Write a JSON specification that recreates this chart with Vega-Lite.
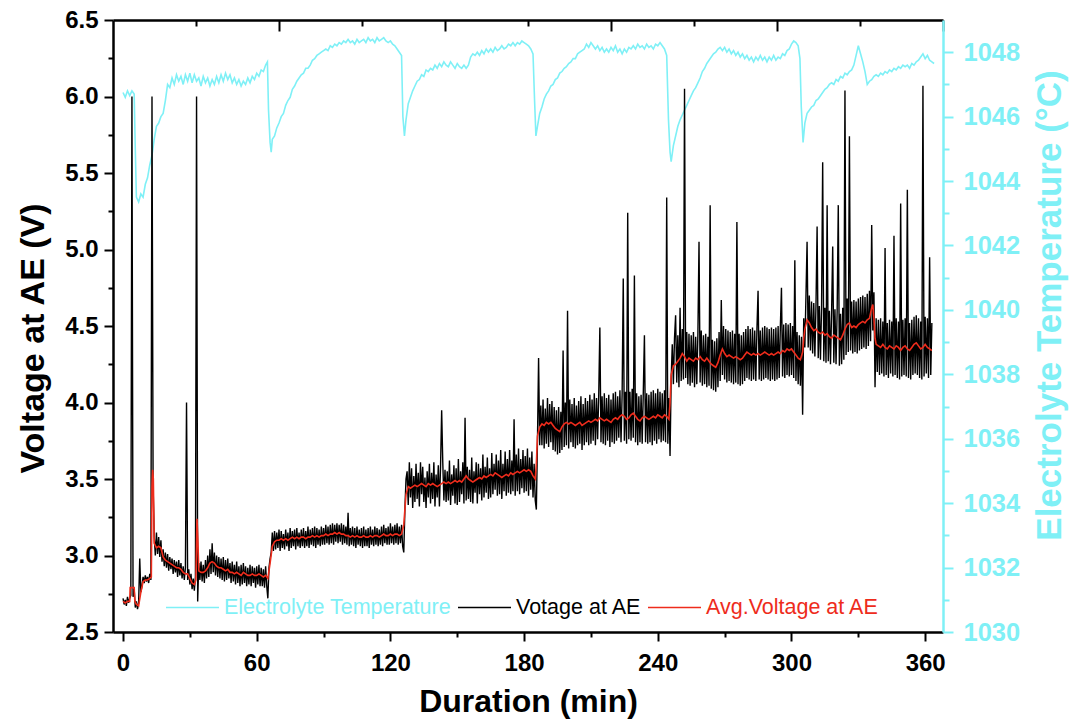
{
"$schema": "https://vega.github.io/schema/vega-lite/v6.json",
"width": 830, "height": 612,
"autosize": {"type": "none"},
"padding": {"left": 113, "top": 20, "right": 131, "bottom": 90},
"background": "white",
"config": {"view": {"stroke": null}, "font": "Liberation Sans", "axis": {"grid": false}},
"datasets": {
"temp": [
{"t":0,"T":1046.75},{"t":1,"T":1046.6},{"t":2,"T":1046.8},{"t":3,"T":1046.65},{"t":4,"T":1046.8},{"t":5,"T":1046.7},{"t":5.5,"T":1045.0},{"t":6,"T":1043.5},{"t":7,"T":1043.35},{"t":8,"T":1043.6},{"t":9,"T":1043.5},{"t":10,"T":1043.9},{"t":11,"T":1044.1},{"t":12,"T":1044.5},{"t":13,"T":1044.8},{"t":14,"T":1045.3},{"t":15,"T":1045.7},{"t":16,"T":1045.8},{"t":17,"T":1046.0},{"t":18,"T":1046.1},{"t":19,"T":1046.5},{"t":20,"T":1047.0},{"t":21,"T":1046.9},{"t":22,"T":1047.2},{"t":23,"T":1047.0},{"t":24,"T":1047.3},{"t":25,"T":1047.1},{"t":26,"T":1047.25},{"t":27,"T":1047.0},{"t":28,"T":1047.3},{"t":29,"T":1047.1},{"t":30,"T":1047.35},{"t":31,"T":1047.05},{"t":32,"T":1047.3},{"t":33,"T":1047.1},{"t":34,"T":1047.2},{"t":35,"T":1046.95},{"t":36,"T":1047.25},{"t":37,"T":1047.05},{"t":38,"T":1047.2},{"t":39,"T":1046.95},{"t":40,"T":1047.15},{"t":41,"T":1047.0},{"t":42,"T":1047.25},{"t":43,"T":1047.05},{"t":44,"T":1047.3},{"t":45,"T":1047.1},{"t":46,"T":1047.35},{"t":47,"T":1047.15},{"t":48,"T":1047.3},{"t":49,"T":1047.05},{"t":50,"T":1047.2},{"t":51,"T":1047.0},{"t":52,"T":1047.15},{"t":53,"T":1046.95},{"t":54,"T":1047.1},{"t":55,"T":1047.0},{"t":56,"T":1047.2},{"t":57,"T":1047.05},{"t":58,"T":1047.25},{"t":59,"T":1047.15},{"t":60,"T":1047.35},{"t":61,"T":1047.25},{"t":62,"T":1047.45},{"t":63,"T":1047.4},{"t":64,"T":1047.6},{"t":64.8,"T":1047.7},{"t":65.3,"T":1046.2},{"t":66,"T":1045.2},{"t":66.5,"T":1044.9},{"t":67,"T":1045.3},{"t":68,"T":1045.4},{"t":69,"T":1045.65},{"t":70,"T":1045.8},{"t":71,"T":1046.0},{"t":72,"T":1046.1},{"t":73,"T":1046.35},{"t":74,"T":1046.5},{"t":75,"T":1046.6},{"t":76,"T":1046.85},{"t":77,"T":1046.95},{"t":78,"T":1047.1},{"t":79,"T":1047.2},{"t":80,"T":1047.3},{"t":81,"T":1047.35},{"t":82,"T":1047.5},{"t":83,"T":1047.5},{"t":84,"T":1047.6},{"t":85,"T":1047.75},{"t":86,"T":1047.8},{"t":87,"T":1047.9},{"t":88,"T":1047.95},{"t":89,"T":1048.0},{"t":90,"T":1048.05},{"t":91,"T":1048.1},{"t":92,"T":1048.05},{"t":93,"T":1048.2},{"t":94,"T":1048.15},{"t":95,"T":1048.25},{"t":96,"T":1048.2},{"t":97,"T":1048.3},{"t":98,"T":1048.25},{"t":99,"T":1048.35},{"t":100,"T":1048.3},{"t":101,"T":1048.4},{"t":102,"T":1048.3},{"t":103,"T":1048.35},{"t":104,"T":1048.25},{"t":105,"T":1048.4},{"t":106,"T":1048.3},{"t":107,"T":1048.35},{"t":108,"T":1048.4},{"t":109,"T":1048.3},{"t":110,"T":1048.45},{"t":111,"T":1048.35},{"t":112,"T":1048.4},{"t":113,"T":1048.3},{"t":114,"T":1048.45},{"t":115,"T":1048.35},{"t":116,"T":1048.4},{"t":117,"T":1048.45},{"t":118,"T":1048.35},{"t":119,"T":1048.3},{"t":120,"T":1048.35},{"t":121,"T":1048.25},{"t":122,"T":1048.2},{"t":123,"T":1048.1},{"t":124,"T":1048.0},{"t":125,"T":1047.9},{"t":125.6,"T":1046.0},{"t":126.3,"T":1045.4},{"t":127,"T":1045.9},{"t":128,"T":1046.4},{"t":129,"T":1046.6},{"t":130,"T":1046.8},{"t":131,"T":1046.95},{"t":132,"T":1047.1},{"t":133,"T":1047.15},{"t":134,"T":1047.3},{"t":135,"T":1047.25},{"t":136,"T":1047.45},{"t":137,"T":1047.4},{"t":138,"T":1047.5},{"t":139,"T":1047.45},{"t":140,"T":1047.6},{"t":141,"T":1047.5},{"t":142,"T":1047.65},{"t":143,"T":1047.55},{"t":144,"T":1047.7},{"t":145,"T":1047.6},{"t":146,"T":1047.55},{"t":147,"T":1047.7},{"t":148,"T":1047.6},{"t":149,"T":1047.5},{"t":150,"T":1047.65},{"t":151,"T":1047.55},{"t":152,"T":1047.5},{"t":153,"T":1047.6},{"t":154,"T":1047.5},{"t":155,"T":1047.6},{"t":156,"T":1047.85},{"t":157,"T":1047.95},{"t":158,"T":1047.9},{"t":159,"T":1048.0},{"t":160,"T":1047.9},{"t":161,"T":1048.05},{"t":162,"T":1047.95},{"t":163,"T":1048.1},{"t":164,"T":1048.0},{"t":165,"T":1048.1},{"t":166,"T":1048.0},{"t":167,"T":1048.15},{"t":168,"T":1048.05},{"t":169,"T":1048.1},{"t":170,"T":1048.2},{"t":171,"T":1048.1},{"t":172,"T":1048.15},{"t":173,"T":1048.25},{"t":174,"T":1048.2},{"t":175,"T":1048.3},{"t":176,"T":1048.2},{"t":177,"T":1048.3},{"t":178,"T":1048.25},{"t":179,"T":1048.35},{"t":180,"T":1048.3},{"t":181,"T":1048.25},{"t":182,"T":1048.2},{"t":183,"T":1048.1},{"t":184,"T":1047.95},{"t":184.7,"T":1046.5},{"t":185.3,"T":1045.4},{"t":186,"T":1045.7},{"t":187,"T":1046.1},{"t":188,"T":1046.3},{"t":189,"T":1046.55},{"t":190,"T":1046.7},{"t":191,"T":1046.8},{"t":192,"T":1046.95},{"t":193,"T":1047.0},{"t":194,"T":1047.15},{"t":195,"T":1047.2},{"t":196,"T":1047.35},{"t":197,"T":1047.4},{"t":198,"T":1047.5},{"t":199,"T":1047.55},{"t":200,"T":1047.65},{"t":201,"T":1047.7},{"t":202,"T":1047.8},{"t":203,"T":1047.8},{"t":204,"T":1047.95},{"t":205,"T":1048.0},{"t":206,"T":1048.05},{"t":207,"T":1048.1},{"t":208,"T":1048.25},{"t":209,"T":1048.15},{"t":210,"T":1048.3},{"t":211,"T":1048.2},{"t":212,"T":1048.1},{"t":213,"T":1048.2},{"t":214,"T":1048.05},{"t":215,"T":1048.15},{"t":216,"T":1048.0},{"t":217,"T":1048.1},{"t":218,"T":1048.0},{"t":219,"T":1048.15},{"t":220,"T":1048.05},{"t":221,"T":1048.2},{"t":222,"T":1048.0},{"t":223,"T":1048.1},{"t":224,"T":1047.95},{"t":225,"T":1048.1},{"t":226,"T":1048.0},{"t":227,"T":1048.15},{"t":228,"T":1048.1},{"t":229,"T":1048.2},{"t":230,"T":1048.1},{"t":231,"T":1048.25},{"t":232,"T":1048.15},{"t":233,"T":1048.2},{"t":234,"T":1048.1},{"t":235,"T":1048.25},{"t":236,"T":1048.15},{"t":237,"T":1048.2},{"t":238,"T":1048.1},{"t":239,"T":1048.25},{"t":240,"T":1048.2},{"t":241,"T":1048.3},{"t":242,"T":1048.2},{"t":243,"T":1048.1},{"t":244,"T":1047.9},{"t":244.8,"T":1045.9},{"t":245.5,"T":1044.9},{"t":246,"T":1044.6},{"t":247,"T":1045.1},{"t":248,"T":1045.4},{"t":249,"T":1045.7},{"t":250,"T":1045.9},{"t":251,"T":1046.05},{"t":252,"T":1046.2},{"t":253,"T":1046.35},{"t":254,"T":1046.5},{"t":255,"T":1046.65},{"t":256,"T":1046.8},{"t":257,"T":1046.9},{"t":258,"T":1047.05},{"t":259,"T":1047.2},{"t":260,"T":1047.4},{"t":261,"T":1047.5},{"t":262,"T":1047.65},{"t":263,"T":1047.75},{"t":264,"T":1047.85},{"t":265,"T":1047.95},{"t":266,"T":1048.0},{"t":267,"T":1048.1},{"t":268,"T":1048.15},{"t":269,"T":1048.05},{"t":270,"T":1048.15},{"t":271,"T":1048.0},{"t":272,"T":1048.1},{"t":273,"T":1047.95},{"t":274,"T":1048.05},{"t":275,"T":1047.9},{"t":276,"T":1048.0},{"t":277,"T":1047.85},{"t":278,"T":1047.95},{"t":279,"T":1047.8},{"t":280,"T":1047.9},{"t":281,"T":1047.75},{"t":282,"T":1047.85},{"t":283,"T":1047.7},{"t":284,"T":1047.85},{"t":285,"T":1047.75},{"t":286,"T":1047.9},{"t":287,"T":1047.75},{"t":288,"T":1047.85},{"t":289,"T":1047.7},{"t":290,"T":1047.85},{"t":291,"T":1047.75},{"t":292,"T":1047.9},{"t":293,"T":1047.75},{"t":294,"T":1047.85},{"t":295,"T":1047.8},{"t":296,"T":1047.95},{"t":297,"T":1047.9},{"t":298,"T":1048.05},{"t":299,"T":1048.1},{"t":300,"T":1048.25},{"t":301,"T":1048.35},{"t":302,"T":1048.3},{"t":303,"T":1048.2},{"t":303.8,"T":1047.8},{"t":304.4,"T":1046.3},{"t":305.2,"T":1045.2},{"t":306,"T":1045.8},{"t":307,"T":1046.1},{"t":308,"T":1046.2},{"t":309,"T":1046.3},{"t":310,"T":1046.35},{"t":311,"T":1046.5},{"t":312,"T":1046.55},{"t":313,"T":1046.65},{"t":314,"T":1046.75},{"t":315,"T":1046.85},{"t":316,"T":1046.9},{"t":317,"T":1047.0},{"t":318,"T":1047.05},{"t":319,"T":1047.0},{"t":320,"T":1047.15},{"t":321,"T":1047.1},{"t":322,"T":1047.25},{"t":323,"T":1047.2},{"t":324,"T":1047.35},{"t":325,"T":1047.3},{"t":326,"T":1047.4},{"t":327,"T":1047.45},{"t":328,"T":1047.6},{"t":329,"T":1047.9},{"t":330,"T":1048.2},{"t":331,"T":1047.95},{"t":332,"T":1047.7},{"t":333,"T":1047.4},{"t":334,"T":1047.0},{"t":335,"T":1047.1},{"t":336,"T":1047.15},{"t":337,"T":1047.25},{"t":338,"T":1047.3},{"t":339,"T":1047.25},{"t":340,"T":1047.35},{"t":341,"T":1047.3},{"t":342,"T":1047.4},{"t":343,"T":1047.35},{"t":344,"T":1047.45},{"t":345,"T":1047.4},{"t":346,"T":1047.5},{"t":347,"T":1047.45},{"t":348,"T":1047.55},{"t":349,"T":1047.5},{"t":350,"T":1047.6},{"t":351,"T":1047.55},{"t":352,"T":1047.6},{"t":353,"T":1047.5},{"t":354,"T":1047.65},{"t":355,"T":1047.6},{"t":356,"T":1047.7},{"t":357,"T":1047.75},{"t":358,"T":1047.85},{"t":359,"T":1047.95},{"t":360,"T":1047.8},{"t":361,"T":1047.9},{"t":362,"T":1047.75},{"t":363,"T":1047.7},{"t":364,"T":1047.65}
],
"volt": [
{"t":0,"v":2.72},{"t":0.5,"v":2.68},{"t":1,"v":2.71},{"t":1.5,"v":2.67},{"t":2,"v":2.73},{"t":2.5,"v":2.69},{"t":3,"v":2.72},{"t":3.5,"v":2.74},{"t":4,"v":6.0},{"t":4.5,"v":2.73},{"t":5,"v":2.78},{"t":5.5,"v":2.66},{"t":6,"v":2.7},{"t":6.5,"v":2.65},{"t":7,"v":2.69},{"t":7.5,"v":2.98},{"t":8,"v":2.76},{"t":8.5,"v":2.8},{"t":9,"v":2.86},{"t":9.5,"v":2.82},{"t":10,"v":2.87},{"t":10.5,"v":2.83},{"t":11,"v":2.86},{"t":11.5,"v":2.82},{"t":12,"v":2.88},{"t":12.5,"v":2.84},{"t":13,"v":6.0},{"t":13.5,"v":3.45},{"t":14,"v":3.12},
{"t":14.5,"v":3.0},{"t":15,"v":3.15},{"t":15.5,"v":3.01},{"t":16,"v":3.12},{"t":16.5,"v":2.99},{"t":17,"v":3.1},{"t":17.5,"v":2.96},{"t":18,"v":3.04},{"t":18.5,"v":2.93},{"t":19,"v":3.02},{"t":19.5,"v":2.92},{"t":20,"v":3.01},{"t":20.5,"v":2.9},{"t":21,"v":2.99},{"t":21.5,"v":2.91},{"t":22,"v":2.98},{"t":22.5,"v":2.88},{"t":23,"v":2.97},{"t":23.5,"v":2.89},{"t":24,"v":2.96},{"t":24.5,"v":2.86},{"t":25,"v":2.97},{"t":25.5,"v":2.87},{"t":26,"v":2.95},{"t":26.5,"v":2.85},{"t":27,"v":2.93},{"t":27.5,"v":2.84},{"t":28,"v":2.92},{"t":28.5,"v":4.0},{"t":29,"v":2.84},{"t":29.5,"v":2.91},{"t":30,"v":2.81},{"t":30.5,"v":2.88},{"t":31,"v":2.78},{"t":31.5,"v":2.85},{"t":32,"v":2.77},{"t":32.5,"v":2.86},{"t":33,"v":6.0},{"t":33.5,"v":2.7},
{"t":34,"v":2.95},{"t":34.5,"v":2.84},{"t":35,"v":2.96},{"t":35.5,"v":2.83},{"t":36,"v":2.94},{"t":36.5,"v":2.82},{"t":37,"v":2.97},{"t":37.5,"v":2.85},{"t":38,"v":3.0},{"t":38.5,"v":2.86},{"t":39,"v":3.04},{"t":39.5,"v":2.88},{"t":40,"v":3.08},{"t":40.5,"v":2.89},{"t":41,"v":3.02},{"t":41.5,"v":2.87},{"t":42,"v":3.0},{"t":42.5,"v":2.86},{"t":43,"v":2.99},{"t":43.5,"v":2.85},{"t":44,"v":2.98},{"t":44.5,"v":2.84},{"t":45,"v":2.99},{"t":45.5,"v":2.83},{"t":46,"v":2.97},{"t":46.5,"v":2.84},{"t":47,"v":2.98},{"t":47.5,"v":2.85},{"t":48,"v":2.95},{"t":48.5,"v":2.82},{"t":49,"v":2.96},{"t":49.5,"v":2.83},{"t":50,"v":2.94},{"t":50.5,"v":2.81},{"t":51,"v":2.96},{"t":51.5,"v":2.82},{"t":52,"v":2.93},{"t":52.5,"v":2.8},{"t":53,"v":2.94},{"t":53.5,"v":2.81},{"t":54,"v":2.95},{"t":54.5,"v":2.82},{"t":55,"v":2.93},{"t":55.5,"v":2.8},{"t":56,"v":2.92},{"t":56.5,"v":2.81},{"t":57,"v":2.94},{"t":57.5,"v":2.8},{"t":58,"v":2.93},{"t":58.5,"v":2.82},{"t":59,"v":2.92},{"t":59.5,"v":2.79},{"t":60,"v":2.93},{"t":60.5,"v":2.81},{"t":61,"v":2.94},{"t":61.5,"v":2.8},{"t":62,"v":2.92},{"t":62.5,"v":2.8},{"t":63,"v":2.91},{"t":63.5,"v":2.79},{"t":64,"v":2.93},{"t":64.5,"v":2.8},{"t":65,"v":2.72},{"t":65.5,"v":2.92},{"t":66,"v":2.98},{"t":66.5,"v":3.02},{"t":67,"v":3.15},{"t":67.5,"v":3.03},{"t":68,"v":3.16},
{"t":68.5,"v":3.04},{"t":69,"v":3.15},{"t":69.5,"v":3.05},{"t":70,"v":3.17},{"t":70.5,"v":3.03},{"t":71,"v":3.16},{"t":71.5,"v":3.05},{"t":72,"v":3.14},{"t":72.5,"v":3.04},{"t":73,"v":3.17},{"t":73.5,"v":3.06},{"t":74,"v":3.15},{"t":74.5,"v":3.03},{"t":75,"v":3.18},{"t":75.5,"v":3.05},{"t":76,"v":3.16},{"t":76.5,"v":3.06},{"t":77,"v":3.17},{"t":77.5,"v":3.04},{"t":78,"v":3.18},{"t":78.5,"v":3.06},{"t":79,"v":3.15},{"t":79.5,"v":3.05},{"t":80,"v":3.17},{"t":80.5,"v":3.06},{"t":81,"v":3.18},{"t":81.5,"v":3.05},{"t":82,"v":3.16},{"t":82.5,"v":3.06},{"t":83,"v":3.19},{"t":83.5,"v":3.05},{"t":84,"v":3.17},{"t":84.5,"v":3.07},{"t":85,"v":3.18},{"t":85.5,"v":3.06},{"t":86,"v":3.19},{"t":86.5,"v":3.05},{"t":87,"v":3.18},{"t":87.5,"v":3.07},{"t":88,"v":3.17},{"t":88.5,"v":3.06},{"t":89,"v":3.19},{"t":89.5,"v":3.07},{"t":90,"v":3.18},{"t":90.5,"v":3.07},{"t":91,"v":3.2},{"t":91.5,"v":3.08},{"t":92,"v":3.19},{"t":92.5,"v":3.07},{"t":93,"v":3.2},{"t":93.5,"v":3.08},{"t":94,"v":3.21},{"t":94.5,"v":3.07},{"t":95,"v":3.2},{"t":95.5,"v":3.09},{"t":96,"v":3.21},{"t":96.5,"v":3.08},{"t":97,"v":3.2},{"t":97.5,"v":3.09},{"t":98,"v":3.21},{"t":98.5,"v":3.07},{"t":99,"v":3.2},{"t":99.5,"v":3.08},{"t":100,"v":3.19},{"t":100.5,"v":3.07},{"t":101,"v":3.28},{"t":101.5,"v":3.06},{"t":102,"v":3.18},{"t":102.5,"v":3.07},{"t":103,"v":3.19},{"t":103.5,"v":3.06},{"t":104,"v":3.18},{"t":104.5,"v":3.05},{"t":105,"v":3.19},{"t":105.5,"v":3.07},{"t":106,"v":3.17},{"t":106.5,"v":3.06},{"t":107,"v":3.18},{"t":107.5,"v":3.05},{"t":108,"v":3.19},{"t":108.5,"v":3.06},{"t":109,"v":3.17},{"t":109.5,"v":3.06},{"t":110,"v":3.18},{"t":110.5,"v":3.05},{"t":111,"v":3.19},{"t":111.5,"v":3.07},{"t":112,"v":3.17},{"t":112.5,"v":3.06},{"t":113,"v":3.19},{"t":113.5,"v":3.07},{"t":114,"v":3.18},{"t":114.5,"v":3.06},{"t":115,"v":3.17},{"t":115.5,"v":3.07},{"t":116,"v":3.19},{"t":116.5,"v":3.06},{"t":117,"v":3.2},{"t":117.5,"v":3.08},{"t":118,"v":3.18},{"t":118.5,"v":3.07},{"t":119,"v":3.19},{"t":119.5,"v":3.07},{"t":120,"v":3.21},{"t":120.5,"v":3.08},{"t":121,"v":3.19},{"t":121.5,"v":3.07},{"t":122,"v":3.2},{"t":122.5,"v":3.08},{"t":123,"v":3.21},{"t":123.5,"v":3.07},{"t":124,"v":3.19},{"t":124.5,"v":3.08},{"t":125,"v":3.2},{"t":125.5,"v":3.06},{"t":126,"v":3.02},{"t":126.5,"v":3.3},{"t":127,"v":3.5},
{"t":127.5,"v":3.55},{"t":128,"v":3.33},{"t":128.5,"v":3.61},{"t":129,"v":3.38},{"t":129.5,"v":3.57},{"t":130,"v":3.31},{"t":130.5,"v":3.52},{"t":131,"v":3.35},{"t":131.5,"v":3.6},{"t":132,"v":3.37},{"t":132.5,"v":3.54},{"t":133,"v":3.32},{"t":133.5,"v":3.61},{"t":134,"v":3.4},{"t":134.5,"v":3.58},{"t":135,"v":3.35},{"t":135.5,"v":3.51},{"t":136,"v":3.31},{"t":136.5,"v":3.55},{"t":137,"v":3.38},{"t":137.5,"v":3.6},{"t":138,"v":3.34},{"t":138.5,"v":3.54},{"t":139,"v":3.37},{"t":139.5,"v":3.61},{"t":140,"v":3.32},{"t":140.5,"v":3.53},{"t":141,"v":3.38},{"t":141.5,"v":3.59},{"t":142,"v":3.32},{"t":142.5,"v":3.58},{"t":143,"v":3.95},{"t":143.5,"v":3.61},{"t":144,"v":3.36},{"t":144.5,"v":3.56},{"t":145,"v":3.35},{"t":145.5,"v":3.55},{"t":146,"v":3.36},{"t":146.5,"v":3.62},{"t":147,"v":3.33},{"t":147.5,"v":3.53},{"t":148,"v":3.39},{"t":148.5,"v":3.59},{"t":149,"v":3.34},{"t":149.5,"v":3.57},{"t":150,"v":3.33},{"t":150.5,"v":3.63},{"t":151,"v":3.35},{"t":151.5,"v":3.55},{"t":152,"v":3.4},{"t":152.5,"v":3.61},{"t":153,"v":3.34},{"t":153.5,"v":3.9},{"t":154,"v":3.36},{"t":154.5,"v":3.58},{"t":155,"v":3.37},{"t":155.5,"v":3.56},{"t":156,"v":3.35},{"t":156.5,"v":3.64},{"t":157,"v":3.34},{"t":157.5,"v":3.55},{"t":158,"v":3.41},{"t":158.5,"v":3.61},{"t":159,"v":3.34},{"t":159.5,"v":3.6},{"t":160,"v":3.4},{"t":160.5,"v":3.57},{"t":161,"v":3.36},{"t":161.5,"v":3.66},{"t":162,"v":3.38},{"t":162.5,"v":3.58},{"t":163,"v":3.41},{"t":163.5,"v":3.64},{"t":164,"v":3.37},{"t":164.5,"v":3.57},{"t":165,"v":3.38},{"t":165.5,"v":3.67},{"t":166,"v":3.4},{"t":166.5,"v":3.6},{"t":167,"v":3.43},{"t":167.5,"v":3.66},{"t":168,"v":3.39},{"t":168.5,"v":3.62},{"t":169,"v":3.4},{"t":169.5,"v":3.69},{"t":170,"v":3.37},{"t":170.5,"v":3.6},{"t":171,"v":3.42},{"t":171.5,"v":3.68},{"t":172,"v":3.39},{"t":172.5,"v":3.63},{"t":173,"v":3.41},{"t":173.5,"v":3.69},{"t":174,"v":3.4},{"t":174.5,"v":3.62},{"t":175,"v":3.42},{"t":175.5,"v":3.89},{"t":176,"v":3.39},{"t":176.5,"v":3.66},{"t":177,"v":3.42},{"t":177.5,"v":3.7},{"t":178,"v":3.4},{"t":178.5,"v":3.63},{"t":179,"v":3.44},{"t":179.5,"v":3.69},{"t":180,"v":3.41},{"t":180.5,"v":3.65},{"t":181,"v":3.42},{"t":181.5,"v":3.7},{"t":182,"v":3.39},{"t":182.5,"v":3.64},{"t":183,"v":3.43},{"t":183.5,"v":3.68},{"t":184,"v":3.38},{"t":184.5,"v":3.6},{"t":185,"v":3.36},{"t":185.5,"v":3.3},{"t":186,"v":3.75},{"t":186.5,"v":4.29},{"t":187,"v":3.72},
{"t":187.5,"v":3.98},{"t":188,"v":3.72},{"t":188.5,"v":4.02},{"t":189,"v":3.7},{"t":189.5,"v":3.96},{"t":190,"v":3.73},{"t":190.5,"v":4.03},{"t":191,"v":3.71},{"t":191.5,"v":3.99},{"t":192,"v":3.74},{"t":192.5,"v":4.01},{"t":193,"v":3.69},{"t":193.5,"v":3.97},{"t":194,"v":3.68},{"t":194.5,"v":3.95},{"t":195,"v":3.66},{"t":195.5,"v":3.97},{"t":196,"v":3.67},{"t":196.5,"v":3.94},{"t":197,"v":3.69},{"t":197.5,"v":4.34},{"t":198,"v":3.71},{"t":198.5,"v":4.0},{"t":199,"v":3.72},{"t":199.5,"v":4.6},{"t":200,"v":3.7},{"t":200.5,"v":4.02},{"t":201,"v":3.74},{"t":201.5,"v":3.99},{"t":202,"v":3.71},{"t":202.5,"v":4.03},{"t":203,"v":3.7},{"t":203.5,"v":3.98},{"t":204,"v":3.72},{"t":204.5,"v":4.01},{"t":205,"v":3.73},{"t":205.5,"v":4.04},{"t":206,"v":3.69},{"t":206.5,"v":3.99},{"t":207,"v":3.72},{"t":207.5,"v":4.03},{"t":208,"v":3.74},{"t":208.5,"v":4.01},{"t":209,"v":3.72},{"t":209.5,"v":4.05},{"t":210,"v":3.73},{"t":210.5,"v":4.02},{"t":211,"v":3.75},{"t":211.5,"v":4.06},{"t":212,"v":3.72},{"t":212.5,"v":4.03},{"t":213,"v":3.76},{"t":213.5,"v":4.05},{"t":214,"v":4.49},{"t":214.5,"v":3.74},{"t":215,"v":4.04},{"t":215.5,"v":3.73},{"t":216,"v":4.06},{"t":216.5,"v":3.72},{"t":217,"v":4.03},{"t":217.5,"v":3.75},{"t":218,"v":4.05},{"t":218.5,"v":3.71},{"t":219,"v":4.02},{"t":219.5,"v":3.74},{"t":220,"v":4.06},{"t":220.5,"v":3.73},{"t":221,"v":4.07},{"t":221.5,"v":3.75},{"t":222,"v":4.04},{"t":222.5,"v":3.77},{"t":223,"v":4.08},{"t":223.5,"v":3.74},{"t":224,"v":4.06},{"t":224.5,"v":4.81},{"t":225,"v":3.75},{"t":225.5,"v":4.07},{"t":226,"v":3.73},{"t":226.5,"v":5.24},{"t":227,"v":3.76},{"t":227.5,"v":4.07},{"t":228,"v":3.75},{"t":228.5,"v":4.09},{"t":229,"v":3.77},{"t":229.5,"v":4.83},{"t":230,"v":3.74},{"t":230.5,"v":4.06},{"t":231,"v":3.72},{"t":231.5,"v":4.04},{"t":232,"v":3.74},{"t":232.5,"v":4.05},{"t":233,"v":3.73},{"t":233.5,"v":4.07},{"t":234,"v":4.44},{"t":234.5,"v":3.74},{"t":235,"v":4.06},{"t":235.5,"v":3.73},{"t":236,"v":4.05},{"t":236.5,"v":3.74},{"t":237,"v":4.07},{"t":237.5,"v":3.72},{"t":238,"v":4.08},{"t":238.5,"v":3.75},{"t":239,"v":4.06},{"t":239.5,"v":3.73},{"t":240,"v":4.09},{"t":240.5,"v":3.76},{"t":241,"v":4.07},{"t":241.5,"v":3.74},{"t":242,"v":4.06},{"t":242.5,"v":3.75},{"t":243,"v":4.08},{"t":243.5,"v":3.74},{"t":244,"v":5.34},{"t":244.5,"v":3.73},{"t":245,"v":4.03},{"t":245.5,"v":3.65},{"t":246,"v":4.15},{"t":246.5,"v":4.38},
{"t":247,"v":4.12},{"t":247.5,"v":4.42},{"t":248,"v":4.57},{"t":248.5,"v":4.13},{"t":249,"v":4.44},{"t":249.5,"v":4.1},{"t":250,"v":4.62},{"t":250.5,"v":4.14},{"t":251,"v":4.48},{"t":251.5,"v":4.15},{"t":252,"v":6.05},{"t":252.5,"v":4.16},{"t":253,"v":4.46},{"t":253.5,"v":4.12},{"t":254,"v":4.45},{"t":254.5,"v":4.11},{"t":255,"v":4.44},{"t":255.5,"v":4.13},{"t":256,"v":4.46},{"t":256.5,"v":4.1},{"t":257,"v":4.43},{"t":257.5,"v":4.12},{"t":258,"v":4.45},{"t":258.5,"v":5.05},{"t":259,"v":4.13},{"t":259.5,"v":4.47},{"t":260,"v":4.11},{"t":260.5,"v":4.44},{"t":261,"v":4.12},{"t":261.5,"v":4.45},{"t":262,"v":4.1},{"t":262.5,"v":4.43},{"t":263,"v":4.11},{"t":263.5,"v":5.29},{"t":264,"v":4.09},{"t":264.5,"v":4.41},{"t":265,"v":4.08},{"t":265.5,"v":4.4},{"t":266,"v":4.07},{"t":266.5,"v":4.42},{"t":267,"v":4.1},{"t":267.5,"v":4.46},{"t":268,"v":4.14},{"t":268.5,"v":4.67},{"t":269,"v":4.18},{"t":269.5,"v":4.5},{"t":270,"v":4.15},{"t":270.5,"v":4.48},{"t":271,"v":4.13},{"t":271.5,"v":4.47},{"t":272,"v":4.14},{"t":272.5,"v":4.46},{"t":273,"v":4.13},{"t":273.5,"v":4.47},{"t":274,"v":4.12},{"t":274.5,"v":4.45},{"t":275,"v":4.13},{"t":275.5,"v":5.18},{"t":276,"v":4.12},{"t":276.5,"v":4.45},{"t":277,"v":4.11},{"t":277.5,"v":4.44},{"t":278,"v":4.12},{"t":278.5,"v":4.46},{"t":279,"v":4.14},{"t":279.5,"v":4.48},{"t":280,"v":4.16},{"t":280.5,"v":4.5},{"t":281,"v":4.15},{"t":281.5,"v":4.48},{"t":282,"v":4.14},{"t":282.5,"v":4.49},{"t":283,"v":4.15},{"t":283.5,"v":4.47},{"t":284,"v":4.14},{"t":284.5,"v":4.48},{"t":285,"v":4.73},{"t":285.5,"v":4.15},{"t":286,"v":4.47},{"t":286.5,"v":4.14},{"t":287,"v":4.49},{"t":287.5,"v":4.15},{"t":288,"v":4.5},{"t":288.5,"v":4.16},{"t":289,"v":4.49},{"t":289.5,"v":4.15},{"t":290,"v":4.48},{"t":290.5,"v":4.14},{"t":291,"v":4.49},{"t":291.5,"v":4.15},{"t":292,"v":4.48},{"t":292.5,"v":4.14},{"t":293,"v":4.49},{"t":293.5,"v":4.15},{"t":294,"v":4.5},{"t":294.5,"v":4.16},{"t":295,"v":4.49},{"t":295.5,"v":4.75},{"t":296,"v":4.17},{"t":296.5,"v":4.51},{"t":297,"v":4.16},{"t":297.5,"v":4.52},{"t":298,"v":4.18},{"t":298.5,"v":4.51},{"t":299,"v":4.17},{"t":299.5,"v":4.52},{"t":300,"v":4.18},{"t":300.5,"v":4.5},{"t":301,"v":4.16},{"t":301.5,"v":4.93},{"t":302,"v":4.14},{"t":302.5,"v":4.46},{"t":303,"v":4.12},{"t":303.5,"v":4.44},{"t":304,"v":4.11},{"t":304.5,"v":4.43},{"t":305,"v":3.92},{"t":305.5,"v":4.55},{"t":306,"v":4.36},{"t":306.5,"v":4.7},
{"t":307,"v":5.05},{"t":307.5,"v":4.36},{"t":308,"v":4.7},{"t":308.5,"v":4.34},{"t":309,"v":4.66},{"t":309.5,"v":4.32},{"t":310,"v":4.65},{"t":310.5,"v":4.3},{"t":311,"v":4.64},{"t":311.5,"v":5.15},{"t":312,"v":4.29},{"t":312.5,"v":4.63},{"t":313,"v":4.28},{"t":313.5,"v":4.62},{"t":314,"v":5.57},{"t":314.5,"v":4.27},{"t":315,"v":4.62},{"t":315.5,"v":4.26},{"t":316,"v":5.29},{"t":316.5,"v":4.27},{"t":317,"v":4.6},{"t":317.5,"v":4.25},{"t":318,"v":4.59},{"t":318.5,"v":5.02},{"t":319,"v":4.26},{"t":319.5,"v":4.61},{"t":320,"v":4.25},{"t":320.5,"v":4.6},{"t":321,"v":5.29},{"t":321.5,"v":4.24},{"t":322,"v":4.58},{"t":322.5,"v":4.25},{"t":323,"v":4.62},{"t":323.5,"v":4.28},{"t":324,"v":6.04},{"t":324.5,"v":4.31},{"t":325,"v":4.68},{"t":325.5,"v":4.33},{"t":326,"v":5.74},{"t":326.5,"v":4.34},{"t":327,"v":4.66},{"t":327.5,"v":4.32},{"t":328,"v":4.67},{"t":328.5,"v":4.33},{"t":329,"v":4.66},{"t":329.5,"v":4.32},{"t":330,"v":4.68},{"t":330.5,"v":4.34},{"t":331,"v":4.69},{"t":331.5,"v":4.35},{"t":332,"v":4.7},{"t":332.5,"v":4.36},{"t":333,"v":4.69},{"t":333.5,"v":4.35},{"t":334,"v":4.71},{"t":334.5,"v":4.37},{"t":335,"v":4.73},{"t":335.5,"v":4.4},{"t":336,"v":5.16},{"t":336.5,"v":4.47},{"t":337,"v":4.72},{"t":337.5,"v":4.1},{"t":338,"v":4.55},
{"t":338.5,"v":4.2},{"t":339,"v":4.54},{"t":339.5,"v":4.18},{"t":340,"v":4.55},{"t":340.5,"v":4.19},{"t":341,"v":4.53},{"t":341.5,"v":4.17},{"t":342,"v":5.01},{"t":342.5,"v":4.18},{"t":343,"v":4.52},{"t":343.5,"v":4.16},{"t":344,"v":4.54},{"t":344.5,"v":4.19},{"t":345,"v":4.53},{"t":345.5,"v":4.17},{"t":346,"v":5.09},{"t":346.5,"v":4.18},{"t":347,"v":4.55},{"t":347.5,"v":4.16},{"t":348,"v":4.53},{"t":348.5,"v":4.15},{"t":349,"v":5.3},{"t":349.5,"v":4.17},{"t":350,"v":4.54},{"t":350.5,"v":4.18},{"t":351,"v":4.55},{"t":351.5,"v":4.17},{"t":352,"v":5.39},{"t":352.5,"v":4.16},{"t":353,"v":4.52},{"t":353.5,"v":4.15},{"t":354,"v":4.54},{"t":354.5,"v":4.18},{"t":355,"v":4.56},{"t":355.5,"v":4.19},{"t":356,"v":4.57},{"t":356.5,"v":4.18},{"t":357,"v":4.55},{"t":357.5,"v":4.16},{"t":358,"v":4.53},{"t":358.5,"v":4.15},{"t":359,"v":6.07},{"t":359.5,"v":4.17},{"t":360,"v":4.56},{"t":360.5,"v":4.19},{"t":361,"v":4.55},{"t":361.5,"v":4.16},{"t":362,"v":4.95},{"t":362.5,"v":4.18},{"t":363,"v":4.52}
],
"avg": [
{"t":0,"v":2.7},{"t":1,"v":2.69},{"t":2,"v":2.7},{"t":3,"v":2.7},{"t":3.2,"v":2.79},{"t":4,"v":2.79},{"t":5,"v":2.79},{"t":5.3,"v":2.7},{"t":6,"v":2.68},{"t":7,"v":2.67},{"t":8,"v":2.76},{"t":9,"v":2.83},{"t":10,"v":2.84},{"t":11,"v":2.84},{"t":12,"v":2.85},{"t":12.7,"v":2.86},{"t":13,"v":3.45},{"t":13.3,"v":3.56},{"t":13.6,"v":3.5},{"t":14,"v":3.08},{"t":15,"v":3.05},{"t":16,"v":3.06},{"t":17,"v":3.05},{"t":18,"v":2.99},{"t":19,"v":2.97},{"t":20,"v":2.96},{"t":21,"v":2.95},{"t":22,"v":2.94},{"t":23,"v":2.93},{"t":24,"v":2.92},{"t":25,"v":2.92},{"t":26,"v":2.91},{"t":27,"v":2.89},{"t":28,"v":2.88},{"t":29,"v":2.88},{"t":30,"v":2.85},{"t":31,"v":2.82},{"t":32,"v":2.81},{"t":32.7,"v":2.84},{"t":33.2,"v":3.24},{"t":33.6,"v":3.1},{"t":34,"v":2.9},{"t":35,"v":2.89},{"t":36,"v":2.89},{"t":37,"v":2.9},{"t":38,"v":2.92},{"t":39,"v":2.95},{"t":40,"v":2.96},{"t":41,"v":2.95},{"t":42,"v":2.93},{"t":43,"v":2.92},{"t":44,"v":2.92},{"t":45,"v":2.91},{"t":46,"v":2.9},{"t":47,"v":2.91},{"t":48,"v":2.89},{"t":49,"v":2.89},{"t":50,"v":2.88},{"t":51,"v":2.89},{"t":52,"v":2.88},{"t":53,"v":2.87},{"t":54,"v":2.89},{"t":55,"v":2.88},{"t":56,"v":2.87},{"t":57,"v":2.87},{"t":58,"v":2.88},{"t":59,"v":2.87},{"t":60,"v":2.87},{"t":61,"v":2.88},{"t":62,"v":2.87},{"t":63,"v":2.86},{"t":64,"v":2.87},{"t":65,"v":2.85},{"t":66,"v":2.95},{"t":67,"v":3.06},{"t":68,"v":3.09},{"t":69,"v":3.1},{"t":70,"v":3.1},{"t":71,"v":3.11},{"t":72,"v":3.1},{"t":73,"v":3.11},{"t":74,"v":3.1},{"t":75,"v":3.11},{"t":76,"v":3.12},{"t":77,"v":3.11},{"t":78,"v":3.12},{"t":79,"v":3.11},{"t":80,"v":3.12},{"t":81,"v":3.12},{"t":82,"v":3.11},{"t":83,"v":3.12},{"t":84,"v":3.12},{"t":85,"v":3.13},{"t":86,"v":3.12},{"t":87,"v":3.13},{"t":88,"v":3.12},{"t":89,"v":3.13},{"t":90,"v":3.13},{"t":91,"v":3.14},{"t":92,"v":3.13},{"t":93,"v":3.14},{"t":94,"v":3.14},{"t":95,"v":3.15},{"t":96,"v":3.14},{"t":97,"v":3.15},{"t":98,"v":3.14},{"t":99,"v":3.14},{"t":100,"v":3.13},{"t":101,"v":3.13},{"t":102,"v":3.12},{"t":103,"v":3.13},{"t":104,"v":3.12},{"t":105,"v":3.13},{"t":106,"v":3.12},{"t":107,"v":3.12},{"t":108,"v":3.13},{"t":109,"v":3.12},{"t":110,"v":3.12},{"t":111,"v":3.13},{"t":112,"v":3.12},{"t":113,"v":3.13},{"t":114,"v":3.13},{"t":115,"v":3.12},{"t":116,"v":3.13},{"t":117,"v":3.14},{"t":118,"v":3.13},{"t":119,"v":3.13},{"t":120,"v":3.14},{"t":121,"v":3.13},{"t":122,"v":3.14},{"t":123,"v":3.14},{"t":124,"v":3.13},{"t":125,"v":3.14},{"t":126,"v":3.2},{"t":127,"v":3.4},{"t":128,"v":3.45},{"t":129,"v":3.44},{"t":130,"v":3.45},{"t":131,"v":3.46},{"t":132,"v":3.45},{"t":133,"v":3.46},{"t":134,"v":3.47},{"t":135,"v":3.46},{"t":136,"v":3.45},{"t":137,"v":3.47},{"t":138,"v":3.46},{"t":139,"v":3.47},{"t":140,"v":3.46},{"t":141,"v":3.45},{"t":142,"v":3.46},{"t":143,"v":3.47},{"t":144,"v":3.48},{"t":145,"v":3.47},{"t":146,"v":3.48},{"t":147,"v":3.47},{"t":148,"v":3.48},{"t":149,"v":3.49},{"t":150,"v":3.48},{"t":151,"v":3.49},{"t":152,"v":3.48},{"t":153,"v":3.5},{"t":154,"v":3.52},{"t":155,"v":3.5},{"t":156,"v":3.49},{"t":157,"v":3.48},{"t":158,"v":3.49},{"t":159,"v":3.5},{"t":160,"v":3.51},{"t":161,"v":3.5},{"t":162,"v":3.52},{"t":163,"v":3.51},{"t":164,"v":3.52},{"t":165,"v":3.53},{"t":166,"v":3.52},{"t":167,"v":3.54},{"t":168,"v":3.53},{"t":169,"v":3.52},{"t":170,"v":3.51},{"t":171,"v":3.52},{"t":172,"v":3.53},{"t":173,"v":3.52},{"t":174,"v":3.54},{"t":175,"v":3.53},{"t":176,"v":3.54},{"t":177,"v":3.55},{"t":178,"v":3.54},{"t":179,"v":3.55},{"t":180,"v":3.56},{"t":181,"v":3.55},{"t":182,"v":3.56},{"t":183,"v":3.55},{"t":184,"v":3.52},{"t":185,"v":3.5},{"t":185.5,"v":3.6},{"t":186,"v":3.78},{"t":187,"v":3.84},{"t":188,"v":3.86},{"t":189,"v":3.85},{"t":190,"v":3.87},{"t":191,"v":3.86},{"t":192,"v":3.87},{"t":193,"v":3.85},{"t":194,"v":3.83},{"t":195,"v":3.82},{"t":196,"v":3.81},{"t":197,"v":3.84},{"t":198,"v":3.86},{"t":199,"v":3.87},{"t":200,"v":3.86},{"t":201,"v":3.87},{"t":202,"v":3.86},{"t":203,"v":3.85},{"t":204,"v":3.86},{"t":205,"v":3.87},{"t":206,"v":3.85},{"t":207,"v":3.86},{"t":208,"v":3.87},{"t":209,"v":3.88},{"t":210,"v":3.87},{"t":211,"v":3.88},{"t":212,"v":3.89},{"t":213,"v":3.88},{"t":214,"v":3.9},{"t":215,"v":3.89},{"t":216,"v":3.88},{"t":217,"v":3.89},{"t":218,"v":3.88},{"t":219,"v":3.87},{"t":220,"v":3.89},{"t":221,"v":3.9},{"t":222,"v":3.89},{"t":223,"v":3.91},{"t":224,"v":3.92},{"t":225,"v":3.91},{"t":226,"v":3.89},{"t":227,"v":3.9},{"t":228,"v":3.92},{"t":229,"v":3.93},{"t":230,"v":3.91},{"t":231,"v":3.89},{"t":232,"v":3.88},{"t":233,"v":3.9},{"t":234,"v":3.91},{"t":235,"v":3.9},{"t":236,"v":3.89},{"t":237,"v":3.9},{"t":238,"v":3.91},{"t":239,"v":3.9},{"t":240,"v":3.92},{"t":241,"v":3.91},{"t":242,"v":3.9},{"t":243,"v":3.92},{"t":244,"v":3.91},{"t":245,"v":3.89},{"t":245.5,"v":4.0},{"t":246,"v":4.18},{"t":247,"v":4.24},{"t":248,"v":4.25},{"t":249,"v":4.27},{"t":250,"v":4.29},{"t":251,"v":4.32},{"t":252,"v":4.3},{"t":253,"v":4.27},{"t":254,"v":4.29},{"t":255,"v":4.28},{"t":256,"v":4.27},{"t":257,"v":4.29},{"t":258,"v":4.28},{"t":259,"v":4.3},{"t":260,"v":4.28},{"t":261,"v":4.27},{"t":262,"v":4.29},{"t":263,"v":4.27},{"t":264,"v":4.25},{"t":265,"v":4.24},{"t":266,"v":4.23},{"t":267,"v":4.26},{"t":268,"v":4.31},{"t":269,"v":4.35},{"t":270,"v":4.32},{"t":271,"v":4.3},{"t":272,"v":4.31},{"t":273,"v":4.3},{"t":274,"v":4.29},{"t":275,"v":4.3},{"t":276,"v":4.29},{"t":277,"v":4.28},{"t":278,"v":4.29},{"t":279,"v":4.31},{"t":280,"v":4.33},{"t":281,"v":4.32},{"t":282,"v":4.31},{"t":283,"v":4.32},{"t":284,"v":4.31},{"t":285,"v":4.32},{"t":286,"v":4.31},{"t":287,"v":4.32},{"t":288,"v":4.33},{"t":289,"v":4.32},{"t":290,"v":4.31},{"t":291,"v":4.32},{"t":292,"v":4.31},{"t":293,"v":4.32},{"t":294,"v":4.33},{"t":295,"v":4.32},{"t":296,"v":4.34},{"t":297,"v":4.33},{"t":298,"v":4.35},{"t":299,"v":4.34},{"t":300,"v":4.35},{"t":301,"v":4.33},{"t":302,"v":4.31},{"t":303,"v":4.29},{"t":304,"v":4.28},{"t":305,"v":4.33},{"t":305.5,"v":4.42},{"t":306,"v":4.48},{"t":307,"v":4.54},{"t":308,"v":4.52},{"t":309,"v":4.49},{"t":310,"v":4.47},{"t":311,"v":4.48},{"t":312,"v":4.46},{"t":313,"v":4.45},{"t":314,"v":4.46},{"t":315,"v":4.44},{"t":316,"v":4.45},{"t":317,"v":4.43},{"t":318,"v":4.42},{"t":319,"v":4.44},{"t":320,"v":4.43},{"t":321,"v":4.42},{"t":322,"v":4.41},{"t":323,"v":4.44},{"t":324,"v":4.48},{"t":325,"v":4.51},{"t":326,"v":4.52},{"t":327,"v":4.49},{"t":328,"v":4.5},{"t":329,"v":4.49},{"t":330,"v":4.51},{"t":331,"v":4.52},{"t":332,"v":4.53},{"t":333,"v":4.52},{"t":334,"v":4.54},{"t":335,"v":4.55},{"t":336,"v":4.62},{"t":336.5,"v":4.64},{"t":337,"v":4.55},{"t":337.5,"v":4.42},{"t":338,"v":4.38},{"t":339,"v":4.37},{"t":340,"v":4.36},{"t":341,"v":4.38},{"t":342,"v":4.36},{"t":343,"v":4.35},{"t":344,"v":4.37},{"t":345,"v":4.36},{"t":346,"v":4.35},{"t":347,"v":4.37},{"t":348,"v":4.36},{"t":349,"v":4.34},{"t":350,"v":4.36},{"t":351,"v":4.37},{"t":352,"v":4.35},{"t":353,"v":4.34},{"t":354,"v":4.36},{"t":355,"v":4.38},{"t":356,"v":4.39},{"t":357,"v":4.37},{"t":358,"v":4.35},{"t":359,"v":4.36},{"t":360,"v":4.38},{"t":361,"v":4.36},{"t":362,"v":4.35},{"t":363,"v":4.34}
]
},
"layer": [
{
"data": {"name": "temp"},
"mark": {"type": "line", "opacity": 0, "clip": true},
"encoding": {
"x": {"field": "t", "type": "quantitative",
"scale": {"domain": [-4.5, 368], "nice": false, "zero": false},
"axis": {"orient": "top", "values": [32.75, 107.25, 181.75, 256.25, 330.75], "labels": false, "title": null, "domain": false, "tickColor": "#000000", "tickWidth": 2, "tickSize": -6}},
"y": {"field": "T", "type": "quantitative",
"scale": {"domain": [1030, 1049], "nice": false, "zero": false},
"axis": {"orient": "right", "values": [1031,1033,1035,1037,1039,1041,1043,1045,1047], "labels": false, "title": null, "domain": false, "tickColor": "#7ff0f6", "tickWidth": 2, "tickSize": 6}}
}
},
{
"data": {"name": "temp"},
"mark": {"type": "line", "strokeWidth": 1.6, "clip": true},
"encoding": {
"x": {"field": "t", "type": "quantitative",
"scale": {"domain": [-4.5, 368], "nice": false, "zero": false},
"axis": {"orient": "top", "values": [70, 144.5, 219, 293.5, 368], "labels": false, "title": null, "domainColor": "#000000", "domainWidth": 2.5, "tickColor": "#000000", "tickWidth": 2, "tickSize": -11}},
"y": {"field": "T", "type": "quantitative",
"scale": {"domain": [1030, 1049], "nice": false, "zero": false},
"axis": {"orient": "right", "values": [1030,1032,1034,1036,1038,1040,1042,1044,1046,1048], "format": "d", "labelOverlap": false, "labelFlush": false, "labelBound": false,
"labelFont": "Liberation Sans", "labelFontSize": 25.5, "labelFontWeight": "bold", "labelColor": "#7ff0f6", "labelPadding": 10,
"domainColor": "#7ff0f6", "domainWidth": 2.5, "tickColor": "#7ff0f6", "tickWidth": 2, "tickSize": 10,
"title": "Electrolyte Temperature (°C)", "titleFont": "Liberation Sans", "titleFontSize": 35, "titleFontWeight": "bold", "titleColor": "#7ff0f6", "titleAngle": 270, "titleBaseline": "middle", "titleAlign": "center", "titleX": 106, "titleY": 285}},
"color": {"datum": "Electrolyte Temperature", "type": "nominal",
"scale": {"domain": ["Electrolyte Temperature", "Votage at AE", "Avg.Voltage at AE"], "range": ["#7ff0f6", "#000000", "#ee2c1c"]},
"legend": {"orient": "none", "legendX": 52, "legendY": 560, "direction": "horizontal", "title": null, "padding": 0,
"symbolType": "stroke", "symbolSize": 2809, "symbolStrokeWidth": 1.5, "labelFont": "Liberation Sans", "labelFontSize": 21.5, "labelOffset": 4, "columnPadding": 3, "labelLimit": 0,
"labelColor": {"expr": "datum.value === 'Avg.Voltage at AE' ? '#ee2c1c' : datum.value === 'Votage at AE' ? '#000000' : '#7ff0f6'"}}}
}
},
{
"data": {"name": "volt"},
"mark": {"type": "line", "strokeWidth": 1.4, "clip": true},
"encoding": {
"x": {"field": "t", "type": "quantitative",
"scale": {"domain": [-4.5, 368], "nice": false, "zero": false},
"axis": {"orient": "bottom", "values": [0,60,120,180,240,300,360], "labelOverlap": false, "labelFlush": false, "labelBound": false,
"labelFont": "Liberation Sans", "labelFontSize": 24, "labelFontWeight": "bold", "labelColor": "#000000", "labelPadding": 10,
"domainColor": "#000000", "domainWidth": 2.5, "tickColor": "#000000", "tickWidth": 2, "tickSize": 9,
"title": "Duration (min)", "titleFont": "Liberation Sans", "titleFontSize": 32, "titleFontWeight": "bold", "titleColor": "#000000", "titlePadding": 11}},
"y": {"field": "v", "type": "quantitative",
"scale": {"domain": [2.5, 6.5], "nice": false, "zero": false},
"axis": {"orient": "left", "values": [2.5,3,3.5,4,4.5,5,5.5,6,6.5], "format": ".1f", "labelOverlap": false, "labelFlush": false, "labelBound": false,
"labelFont": "Liberation Sans", "labelFontSize": 24, "labelFontWeight": "bold", "labelColor": "#000000", "labelPadding": 6,
"domainColor": "#000000", "domainWidth": 2.5, "tickColor": "#000000", "tickWidth": 2, "tickSize": 9,
"title": "Voltage at AE (V)", "titleFont": "Liberation Sans", "titleFontSize": 34, "titleFontWeight": "bold", "titleColor": "#000000", "titleAngle": 270, "titleBaseline": "middle", "titleAlign": "center", "titleX": -80, "titleY": 318}},
"color": {"datum": "Votage at AE", "type": "nominal"}
}
},
{
"data": {"name": "avg"},
"mark": {"type": "line", "strokeWidth": 1.6, "clip": true},
"encoding": {
"x": {"field": "t", "type": "quantitative", "scale": {"domain": [-4.5, 368], "nice": false, "zero": false},
"axis": {"orient": "bottom", "values": [30,90,150,210,270,330], "labels": false, "title": null, "domain": false, "tickColor": "#000000", "tickWidth": 2, "tickSize": 5}},
"y": {"field": "v", "type": "quantitative", "scale": {"domain": [2.5, 6.5], "nice": false, "zero": false},
"axis": {"orient": "left", "values": [2.75,3.25,3.75,4.25,4.75,5.25,5.75,6.25], "labels": false, "title": null, "domain": false, "tickColor": "#000000", "tickWidth": 2, "tickSize": 5}},
"color": {"datum": "Avg.Voltage at AE", "type": "nominal"}
}
}
],
"resolve": {"scale": {"y": "independent"}, "axis": {"x": "independent", "y": "independent"}}
}
